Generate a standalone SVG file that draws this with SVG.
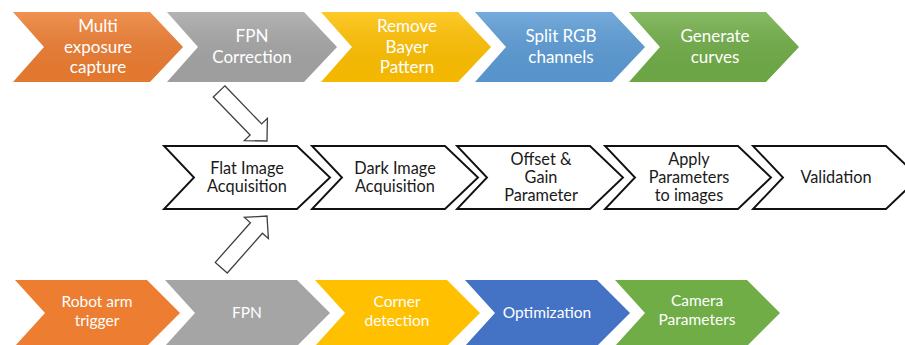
<svg xmlns="http://www.w3.org/2000/svg" xmlns:xlink="http://www.w3.org/1999/xlink" width="905" height="345" viewBox="0 0 905 345">
  <style>
    .lbl-w { font-family: Lato, "Liberation Sans", sans-serif; fill: #ffffff; text-anchor: middle; }
    .top .lbl-w { font-size: 17px; }
    .bot .lbl-w { font-size: 15.5px; }
    .lbl-k { font-family: Lato, "Liberation Sans", sans-serif; fill: #1a1a1a; text-anchor: middle; font-size: 16.3px; }
    .outline { fill: #ffffff; stroke: #111111; stroke-width: 1.9; stroke-linejoin: miter; }
    .blk-arrow { fill: #ffffff; stroke: #404040; stroke-width: 1.3; stroke-linejoin: miter; }
    .orange { fill: #ED7D31; }
    .gray { fill: #A5A5A5; }
    .yellow { fill: #FFC000; }
    .blue { fill: #5B9BD5; }
    .dblue { fill: #4472C4; }
    .green { fill: #70AD47; }
  </style>
  <defs>
    <!-- chevron outlines, drawn at the origin and placed with x/y -->
    <path id="chevTop" d="M0,0 H137 L170,35 L137,70 H0 L31,35 Z"/>
    <path id="chevMid" d="M0,0 H133 L166,31.5 L133,63 H0 L30,31.5 Z"/>
    <path id="chevBot" d="M0,0 H132 L165,33 L132,66 H0 L30,33 Z"/>
    <linearGradient id="sheen" x1="0" y1="0" x2="0" y2="1">
      <stop offset="0" stop-color="#ffffff" stop-opacity="0.16"/>
      <stop offset="1" stop-color="#000000" stop-opacity="0.04"/>
    </linearGradient>
    <!-- hollow block arrow pointing along +x, tip at the origin -->
    <polygon id="blockArrow" points="-69,-8 -16,-8 -16,-16 0,0 -16,16 -16,8 -69,8"/>
  </defs>

  <!-- top process row -->
  <g class="top">
    <g id="multi-exposure">
      <use xlink:href="#chevTop" x="13" y="12" class="orange"/>
      <use xlink:href="#chevTop" x="13" y="12" fill="url(#sheen)"/>
      <text class="lbl-w" x="98" y="32">Multi</text>
      <text class="lbl-w" x="98" y="52.5">exposure</text>
      <text class="lbl-w" x="98" y="73">capture</text>
    </g>
    <g id="fpn-correction">
      <use xlink:href="#chevTop" x="167" y="12" class="gray"/>
      <use xlink:href="#chevTop" x="167" y="12" fill="url(#sheen)"/>
      <text class="lbl-w" x="252" y="42">FPN</text>
      <text class="lbl-w" x="252" y="63">Correction</text>
    </g>
    <g id="remove-bayer">
      <use xlink:href="#chevTop" x="321" y="12" class="yellow"/>
      <use xlink:href="#chevTop" x="321" y="12" fill="url(#sheen)"/>
      <text class="lbl-w" x="407" y="32">Remove</text>
      <text class="lbl-w" x="407" y="52.5">Bayer</text>
      <text class="lbl-w" x="407" y="73">Pattern</text>
    </g>
    <g id="split-rgb">
      <use xlink:href="#chevTop" x="475" y="12" class="blue"/>
      <use xlink:href="#chevTop" x="475" y="12" fill="url(#sheen)"/>
      <text class="lbl-w" x="561" y="42">Split RGB</text>
      <text class="lbl-w" x="561" y="63">channels</text>
    </g>
    <g id="generate-curves">
      <use xlink:href="#chevTop" x="629" y="12" class="green"/>
      <use xlink:href="#chevTop" x="629" y="12" fill="url(#sheen)"/>
      <text class="lbl-w" x="715" y="42">Generate</text>
      <text class="lbl-w" x="715" y="63">curves</text>
    </g>
  </g>

  <!-- middle calibration row -->
  <g class="mid">
    <g id="flat-image">
      <use xlink:href="#chevMid" x="164" y="146" class="outline"/>
      <text class="lbl-k" x="247" y="174">Flat Image</text>
      <text class="lbl-k" x="247" y="192">Acquisition</text>
    </g>
    <g id="dark-image">
      <use xlink:href="#chevMid" x="312" y="146" class="outline"/>
      <text class="lbl-k" x="395" y="174">Dark Image</text>
      <text class="lbl-k" x="395" y="192">Acquisition</text>
    </g>
    <g id="offset-gain">
      <use xlink:href="#chevMid" x="457" y="146" class="outline"/>
      <text class="lbl-k" x="541" y="165">Offset &amp;</text>
      <text class="lbl-k" x="541" y="183">Gain</text>
      <text class="lbl-k" x="541" y="201">Parameter</text>
    </g>
    <g id="apply-parameters">
      <use xlink:href="#chevMid" x="605" y="146" class="outline"/>
      <text class="lbl-k" x="689" y="165">Apply</text>
      <text class="lbl-k" x="689" y="183">Parameters</text>
      <text class="lbl-k" x="689" y="201">to images</text>
    </g>
    <g id="validation">
      <use xlink:href="#chevMid" x="753" y="146" class="outline"/>
      <text class="lbl-k" x="836" y="183">Validation</text>
    </g>
  </g>

  <!-- bottom process row -->
  <g class="bot">
    <g id="robot-arm">
      <use xlink:href="#chevBot" x="15" y="280" class="orange"/>
      <text class="lbl-w" x="97" y="307">Robot arm</text>
      <text class="lbl-w" x="97" y="326">trigger</text>
    </g>
    <g id="fpn">
      <use xlink:href="#chevBot" x="165" y="280" class="gray"/>
      <text class="lbl-w" x="247" y="318">FPN</text>
    </g>
    <g id="corner-detection">
      <use xlink:href="#chevBot" x="315" y="280" class="yellow"/>
      <text class="lbl-w" x="397" y="307">Corner</text>
      <text class="lbl-w" x="397" y="326">detection</text>
    </g>
    <g id="optimization">
      <use xlink:href="#chevBot" x="465" y="280" class="dblue"/>
      <text class="lbl-w" x="547" y="318">Optimization</text>
    </g>
    <g id="camera-parameters">
      <use xlink:href="#chevBot" x="615" y="280" class="green"/>
      <text class="lbl-w" x="697" y="306">Camera</text>
      <text class="lbl-w" x="697" y="325">Parameters</text>
    </g>
  </g>

  <!-- hollow arrows feeding the flat image step -->
  <g id="connectors">
    <use xlink:href="#blockArrow" class="blk-arrow" transform="translate(267,141) rotate(46)"/>
    <use xlink:href="#blockArrow" class="blk-arrow" transform="translate(267,216) rotate(-48.5)"/>
  </g>
</svg>
